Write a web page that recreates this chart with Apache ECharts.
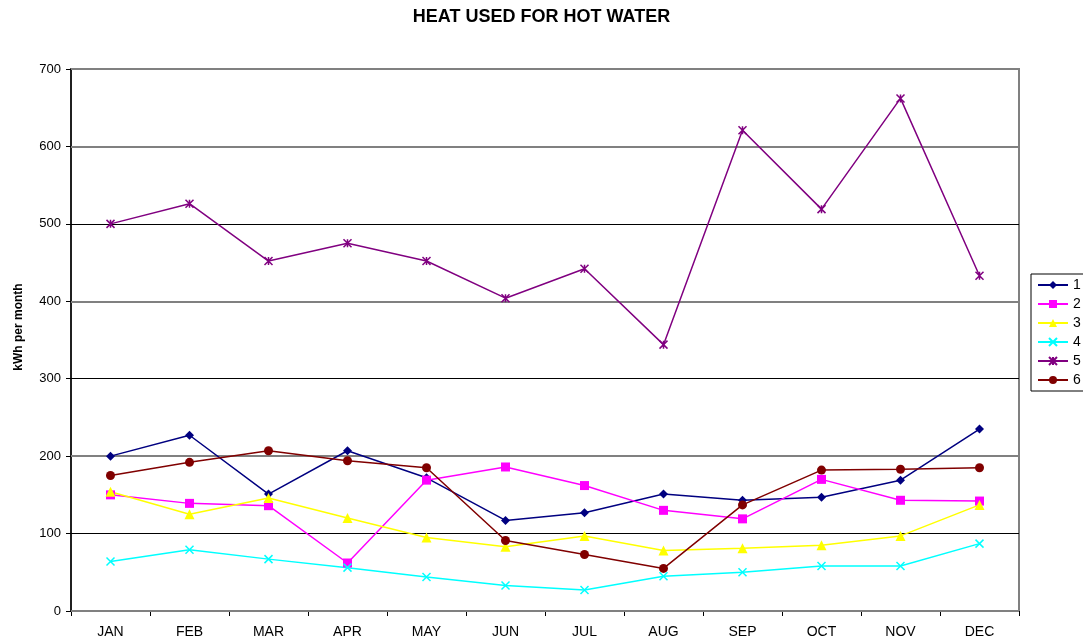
<!DOCTYPE html>
<html>
<head>
<meta charset="utf-8">
<script src="https://cdn.jsdelivr.net/npm/echarts@6/dist/echarts.min.js"></script>
<style>
    html, body { margin: 0; padding: 0; background: #fff; }
    #chart-container { width: 1083px; height: 643px; }
</style>
</head>
<body>
<div id="chart-container"></div>
<script>
// 月份
const months = ['JAN', 'FEB', 'MAR', 'APR', 'MAY', 'JUN', 'JUL', 'AUG', 'SEP', 'OCT', 'NOV', 'DEC'];
// 每個系列的數值 (kWh per month)
const s1 = [200, 227, 151, 207, 172, 117, 127, 151, 143, 147, 169, 235];
const s2 = [150, 139, 136, 62, 169, 186, 162, 130, 119, 170, 143, 142];
const s3 = [154, 125, 146, 120, 95, 83, 97, 78, 81, 85, 97, 137];
const s4 = [64, 79, 67, 56, 44, 33, 27, 45, 50, 58, 58, 87];
const s5 = [500, 526, 452, 475, 452, 404, 442, 344, 621, 519, 662, 433];
const s6 = [175, 192, 207, 194, 185, 91, 73, 55, 137, 182, 183, 185];
const yTicks = [0, 700, 100];

const crossPath = 'path://M0,0L10,10M10,0L0,10';
const starPath = 'path://M0,0L10,10M10,0L0,10M5,0L5,10';

const chart = echarts.init(document.getElementById('chart-container'));

function mk(name, data, color, symbol, size, stroke) {
    return {
        name: name,
        type: 'line',
        yAxisIndex: 0,
        data: data,
        symbol: symbol,
        symbolSize: size,
        showAllSymbol: true,
        lineStyle: { color: color, width: 1.5 },
        itemStyle: stroke
            ? { color: 'rgba(0,0,0,0)', borderColor: color, borderWidth: 1.5 }
            : { color: color, borderWidth: 0 },
        emphasis: { disabled: true },
        z: 5
    };
}

const option = {
    animation: false,
    textStyle: { fontFamily: 'Liberation Sans' },
    title: {
        text: 'HEAT USED FOR HOT WATER',
        left: 'center',
        top: 3,
        textStyle: { fontSize: 18, fontWeight: 'bold', color: '#000', fontFamily: 'Liberation Sans' }
    },
    legend: {
        orient: 'vertical',
        left: 1031,
        top: 274,
        itemWidth: 30,
        itemHeight: 10,
        itemGap: 5,
        padding: [4, 20, 4, 6],
        borderColor: '#000',
        borderWidth: 1,
        backgroundColor: '#fff',
        textStyle: { fontSize: 14, color: '#000', fontFamily: 'Liberation Sans' },
        data: ['1', '2', '3', '4', '5', '6']
    },
    grid: {
        left: 71,
        right: 64,
        top: 69,
        bottom: 32,
        show: true,
        borderColor: '#808080',
        borderWidth: 2
    },
    xAxis: {
        type: 'category',
        data: months,
        boundaryGap: true,
        axisLine: { lineStyle: { color: '#000', width: 1 } },
        axisTick: { show: true, length: 5, lineStyle: { color: '#000' } },
        axisLabel: { color: '#000', fontSize: 14, margin: 14 }
    },
    yAxis: [
        {
            type: 'value',
            min: yTicks[0],
            max: yTicks[1],
            interval: yTicks[2],
            name: 'kWh per month',
            nameLocation: 'middle',
            nameGap: 46,
            nameTextStyle: { fontSize: 12, fontWeight: 'bold', color: '#000', padding: [0, 0, 0, 26] },
            axisLine: { show: true, lineStyle: { color: '#000', width: 1.5 } },
            axisTick: { show: true, length: 5, lineStyle: { color: '#000' } },
            axisLabel: { color: '#000', fontSize: 13, margin: 10 },
            splitLine: { show: true, lineStyle: { color: '#000', width: 1 } },
            z: 3
        },
        {
            // 灰色粗格線 (每200)
            type: 'value',
            position: 'left',
            min: yTicks[0],
            max: yTicks[1],
            interval: yTicks[2] * 2,
            axisLine: { show: false },
            axisTick: { show: false },
            axisLabel: { show: false },
            splitLine: { show: true, lineStyle: { color: '#808080', width: 2 } },
            z: 4
        }
    ],
    series: [
        mk('1', s1, '#000080', 'diamond', 9, false),
        mk('2', s2, '#FF00FF', 'rect', 9, false),
        mk('3', s3, '#FFFF00', 'triangle', 10, false),
        mk('4', s4, '#00FFFF', crossPath, 8, true),
        mk('5', s5, '#800080', starPath, 8, true),
        mk('6', s6, '#800000', 'circle', 9, false)
    ]
};

chart.setOption(option);
window.addEventListener('resize', () => chart.resize());
</script>
</body>
</html>
